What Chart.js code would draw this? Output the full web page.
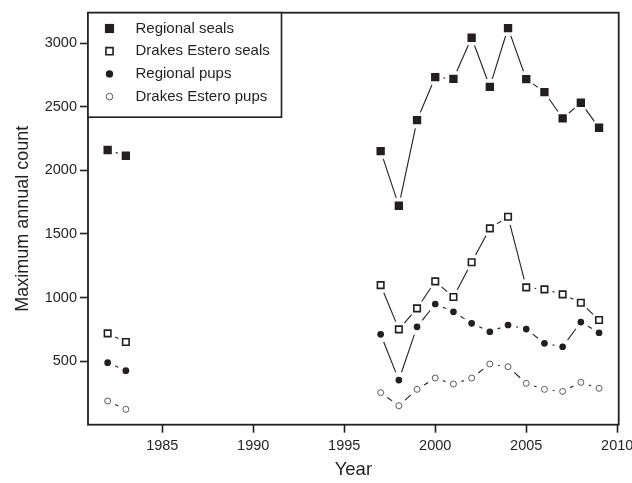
<!DOCTYPE html>
<html>
<head>
<meta charset="utf-8">
<script src="https://cdn.jsdelivr.net/npm/chart.js@4.4.1/dist/chart.umd.min.js"></script>
<style>
  html, body { margin: 0; padding: 0; background: #ffffff; }
  #wrap { width: 632px; height: 483px; }
</style>
</head>
<body>
<div id="wrap"><canvas id="c" width="632" height="483"></canvas></div>
<script>
// ---- data ----
const years = [1982, 1983, 1997, 1998, 1999, 2000, 2001, 2002, 2003, 2004, 2005, 2006, 2007, 2008, 2009];
const regionalSeals   = [2160, 2115, 2152, 1722, 2395, 2733, 2720, 3043, 2657, 3119, 2718, 2615, 2409, 2532, 2335];
const drakesSeals     = [718, 650, 1098, 750, 915, 1127, 1004, 1277, 1544, 1635, 1080, 1064, 1025, 959, 823];
const regionalPups    = [488, 425, 711, 351, 770, 949, 888, 797, 731, 784, 752, 640, 613, 807, 723];
const drakesPups      = [186, 121, 252, 149, 278, 367, 320, 367, 477, 456, 325, 278, 262, 333, 286];
const seriesLabels = ['Regional seals', 'Drakes Estero seals', 'Regional pups', 'Drakes Estero pups'];
const xTicks = [1985, 1990, 1995, 2000, 2005, 2010];
const yTicks = [500, 1000, 1500, 2000, 2500, 3000];

const INK = '#231f20';
const FONT = '"Liberation Sans", Arial, Helvetica, sans-serif';

const styles = [
  { pointStyle: 'rect',   radius: 5.9, fill: INK,       stroke: INK,    bw: 0 },
  { pointStyle: 'rect',   radius: 4.6, fill: '#ffffff', stroke: INK,    bw: 1.6 },
  { pointStyle: 'circle', radius: 3.35, fill: INK,      stroke: INK,    bw: 0 },
  { pointStyle: 'circle', radius: 3.0, fill: '#ffffff', stroke: '#4a4a4a', bw: 0.9 }
];
const seriesValues = [regionalSeals, drakesSeals, regionalPups, drakesPups];

const datasets = seriesValues.map((vals, i) => ({
  label: seriesLabels[i],
  data: vals.map((v, j) => ({ x: years[j], y: v })),
  showLine: false,
  pointStyle: styles[i].pointStyle,
  pointRadius: styles[i].radius,
  pointHoverRadius: styles[i].radius,
  pointBackgroundColor: styles[i].fill,
  pointBorderColor: styles[i].stroke,
  pointBorderWidth: styles[i].bw,
  order: i
}));

// R "type = b" style connecting lines: segments between consecutive years with gaps around points
const gapLines = {
  id: 'gapLines',
  beforeDatasetsDraw(chart) {
    const ctx = chart.ctx;
    const GAP = 8.3;
    ctx.save();
    ctx.strokeStyle = INK;
    ctx.lineWidth = 1.1;
    chart.data.datasets.forEach((ds, i) => {
      const pts = chart.getDatasetMeta(i).data;
      for (let j = 0; j < pts.length - 1; j++) {
        if (years[j + 1] - years[j] !== 1) continue;
        const a = pts[j], b = pts[j + 1];
        const dx = b.x - a.x, dy = b.y - a.y;
        const d = Math.hypot(dx, dy);
        if (d <= 2 * GAP) continue;
        const ux = dx / d, uy = dy / d;
        ctx.beginPath();
        ctx.moveTo(a.x + ux * GAP, a.y + uy * GAP);
        ctx.lineTo(b.x - ux * GAP, b.y - uy * GAP);
        ctx.stroke();
      }
    });
    ctx.restore();
  }
};

function drawMarker(ctx, st, x, y, k) {
  ctx.save();
  ctx.fillStyle = st.fill;
  ctx.strokeStyle = st.stroke;
  ctx.lineWidth = st.bw;
  ctx.beginPath();
  const r = st.radius * k;
  if (st.pointStyle === 'rect') {
    const s = Math.SQRT1_2 * r;
    ctx.rect(x - s, y - s, 2 * s, 2 * s);
  } else {
    ctx.arc(x, y, r, 0, Math.PI * 2);
  }
  ctx.fill();
  if (st.bw > 0) ctx.stroke();
  ctx.restore();
}

// frame box + legend box
const frameAndLegend = {
  id: 'frameAndLegend',
  afterDraw(chart) {
    const ctx = chart.ctx;
    const a = chart.chartArea;
    ctx.save();
    ctx.strokeStyle = INK;
    ctx.lineWidth = 1.8;
    ctx.strokeRect(a.left, a.top, a.right - a.left, a.bottom - a.top);

    // legend
    const L = a.left, T = a.top, W = 193.5, H = 104.5;
    ctx.fillStyle = '#ffffff';
    ctx.fillRect(L, T, W, H);
    ctx.lineWidth = 1.6;
    ctx.strokeRect(L, T, W, H);
    ctx.font = '15px ' + FONT;
    ctx.fillStyle = INK;
    ctx.textBaseline = 'middle';
    ctx.textAlign = 'left';
    seriesLabels.forEach((lab, i) => {
      const y = T + 15.8 + i * 22.7;
      drawMarker(ctx, styles[i], L + 21.5, y, 1.1);
      ctx.fillStyle = INK;
      ctx.fillText(lab, L + 47.5, y);
    });
    ctx.restore();
  }
};

new Chart(document.getElementById('c'), {
  type: 'line',
  data: { datasets },
  options: {
    responsive: false,
    animation: false,
    events: [],
    layout: { padding: { top: 12.7, right: 13.3, left: 0, bottom: 0 } },
    plugins: { legend: { display: false }, tooltip: { enabled: false } },
    scales: {
      x: {
        type: 'linear',
        min: 1980.92,
        max: 2010.08,
        afterBuildTicks: s => { s.ticks = xTicks.map(v => ({ value: v })); },
        afterFit: s => { s.height = 58.3; s.paddingLeft = 0; s.paddingRight = 0; },
        border: { display: false },
        grid: { drawOnChartArea: false, drawTicks: true, tickLength: 8, tickColor: INK, tickWidth: 1.6 },
        ticks: {
          callback: v => String(v),
          color: INK,
          padding: 5,
          maxRotation: 0,
          autoSkip: false,
          font: { family: FONT, size: 14.5 }
        },
        title: {
          display: true,
          text: 'Year',
          color: INK,
          font: { family: FONT, size: 18.5 },
          padding: { top: 0, bottom: 2 }
        }
      },
      y: {
        type: 'linear',
        min: 0,
        max: 3240,
        afterBuildTicks: s => { s.ticks = yTicks.map(v => ({ value: v })); },
        afterFit: s => { s.width = 88; s.paddingTop = 0; s.paddingBottom = 0; },
        border: { display: false },
        grid: { drawOnChartArea: false, drawTicks: true, tickLength: 8, tickColor: INK, tickWidth: 1.6 },
        ticks: {
          callback: v => String(v),
          color: INK,
          padding: 3,
          autoSkip: false,
          font: { family: FONT, size: 14.5 }
        },
        title: {
          display: true,
          text: 'Maximum annual count',
          color: INK,
          font: { family: FONT, size: 18 },
          padding: { top: 12, bottom: 0 }
        }
      }
    }
  },
  plugins: [gapLines, frameAndLegend]
});
</script>
</body>
</html>
